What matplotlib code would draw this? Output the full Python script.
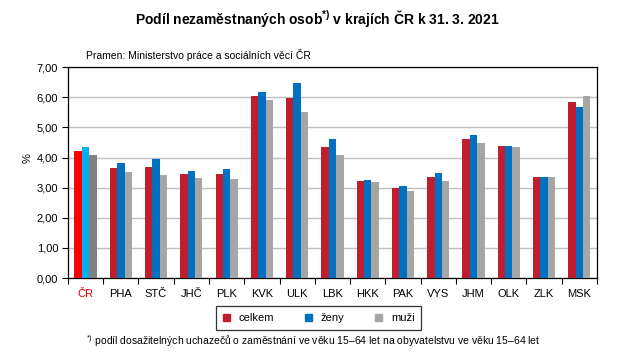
import matplotlib
matplotlib.use("Agg")
import matplotlib.pyplot as plt
import numpy as np
from matplotlib.ticker import FuncFormatter, MultipleLocator
from matplotlib.patches import Patch

plt.rcParams['font.family'] = ['Liberation Sans', 'DejaVu Sans']
plt.rcParams['mathtext.fontset'] = 'custom'
plt.rcParams['mathtext.rm'] = 'Liberation Sans'
plt.rcParams['mathtext.bf'] = 'Liberation Sans:bold'

kraje = ["ČR", "PHA", "STČ", "JHČ", "PLK", "KVK", "ULK", "LBK", "HKK", "PAK",
         "VYS", "JHM", "OLK", "ZLK", "MSK"]
celkem = [4.22, 3.66, 3.69, 3.46, 3.46, 6.04, 5.99, 4.35, 3.23, 3.00, 3.36, 4.62, 4.39, 3.36, 5.84]
zeny = [4.35, 3.83, 3.96, 3.56, 3.63, 6.17, 6.47, 4.62, 3.26, 3.07, 3.50, 4.75, 4.39, 3.36, 5.68]
muzi = [4.09, 3.53, 3.43, 3.33, 3.30, 5.91, 5.51, 4.09, 3.20, 2.90, 3.23, 4.49, 4.35, 3.36, 6.04]

col_c = ["#ff0000"] + ["#be1e2d"] * 14
col_z = ["#00b0f0"] + ["#0070c0"] * 14
col_m = ["#808080"] + ["#a6a6a6"] * 14

fig = plt.figure(figsize=(6.35, 3.63), dpi=100)
ax = fig.add_axes([0.107, 0.234, 0.833, 0.581])

x = np.arange(len(kraje))
w = 0.21
ax.bar(x - w, celkem, w, color=col_c, zorder=3)
ax.bar(x, zeny, w, color=col_z, zorder=3)
ax.bar(x + w, muzi, w, color=col_m, zorder=3)

ax.set_xlim(-0.5, len(kraje) - 0.5)
ax.set_ylim(0, 7)
ax.yaxis.set_major_locator(MultipleLocator(1))
ax.yaxis.set_major_formatter(FuncFormatter(lambda v, p: f"{v:.2f}".replace(".", ",")))
ax.grid(axis='y', color='#c0c0c0', linewidth=1, zorder=0)

ax.set_xticks(x)
ax.set_xticklabels(kraje)
ax.set_xticks(np.arange(-0.5, len(kraje), 1), minor=True)
ax.tick_params(axis='x', which='major', length=0, pad=8, labelsize=8)
ax.tick_params(axis='x', which='minor', length=4, width=0.8, direction='out')
ax.tick_params(axis='y', length=4, width=0.8, labelsize=8, pad=3)
ax.get_xticklabels()[0].set_color("#e00000")
for s in ax.spines.values():
    s.set_linewidth(0.9)
ax.set_ylabel("%", fontsize=8)
ax.yaxis.set_label_coords(-0.066, 0.57)

fig.text(0.5, 0.95, r"Podíl nezaměstnaných osob$^{\mathbf{*)}}$ v krajích ČR k 31. 3. 2021",
         ha='center', va='center', fontsize=10, fontweight='bold')
fig.text(0.136, 0.848, "Pramen: Ministerstvo práce a sociálních věcí ČR",
         ha='left', va='center', fontsize=7.5)
fig.text(0.136, 0.06, r"$^{*)}$ podíl dosažitelných uchazečů o zaměstnání ve věku 15–64 let na obyvatelstvu ve věku 15–64 let",
         ha='left', va='center', fontsize=7.5)

handles = [Patch(color="#be1e2d"), Patch(color="#0070c0"), Patch(color="#a6a6a6")]
leg = fig.legend(handles, ["celkem", "ženy", "muži"], loc='center', ncol=3,
                 bbox_to_anchor=(0.502, 0.124), fontsize=8, frameon=True,
                 fancybox=False, edgecolor='black', handlelength=0.6, handleheight=0.6,
                 columnspacing=2.8, handletextpad=0.8, borderpad=0.6)
leg.get_frame().set_linewidth(0.9)

fig.savefig("out.png", dpi=100)
